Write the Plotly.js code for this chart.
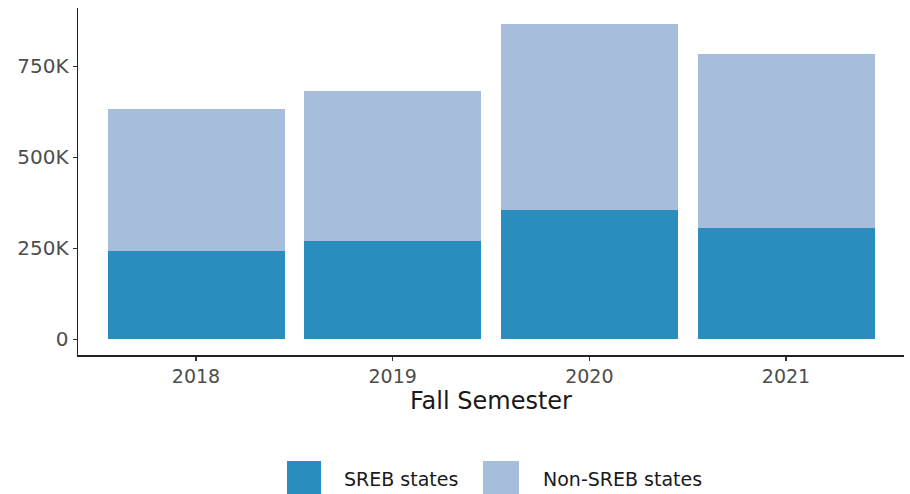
<!DOCTYPE html>
<html>
<head>
<meta charset="utf-8">
<script src="https://cdn.plot.ly/plotly-3.0.1.min.js"></script>
<style>html,body{margin:0;padding:0;background:#fff;}#chart{width:910px;height:494px;}</style>
</head>
<body>
<div id="chart"></div>
<script>
const years = ["2018", "2019", "2020", "2021"];
const srebValues = [242000, 269000, 356000, 307000];
const nonSrebValues = [391000, 412000, 511000, 478000];
const seriesNames = ["SREB states", "Non-SREB states"];
const seriesColors = ["#2B8CBE", "#A6BDDB"];
const yTickVals = [0, 250000, 500000, 750000];
const yTickText = ["0", "250K", "500K", "750K"];

const font = "'DejaVu Sans', sans-serif";

const traces = [
  {type: "bar", x: years, y: srebValues, name: seriesNames[0], marker: {color: seriesColors[0]}, showlegend: false},
  {type: "bar", x: years, y: nonSrebValues, name: seriesNames[1], marker: {color: seriesColors[1]}, showlegend: false}
];

// legend drawn as keys + labels below the plot
const legendShapes = [
  {type: "rect", xref: "paper", yref: "paper", x0: 0.2530, x1: 0.2942, y0: -0.4035, y1: -0.3055, fillcolor: seriesColors[0], line: {width: 0}},
  {type: "rect", xref: "paper", yref: "paper", x0: 0.4903, x1: 0.5339, y0: -0.4035, y1: -0.3055, fillcolor: seriesColors[1], line: {width: 0}}
];
const legendAnnotations = [
  {xref: "paper", yref: "paper", x: 0.3196, y: -0.357, xanchor: "left", yanchor: "middle", text: seriesNames[0], showarrow: false, font: {family: font, size: 19, color: "#1a1a1a"}},
  {xref: "paper", yref: "paper", x: 0.5605, y: -0.357, xanchor: "left", yanchor: "middle", text: seriesNames[1], showarrow: false, font: {family: font, size: 19, color: "#1a1a1a"}}
];

const layout = {
  width: 910, height: 494,
  margin: {l: 78, r: 6, t: 8, b: 139},
  paper_bgcolor: "#fff", plot_bgcolor: "#fff",
  barmode: "stack", bargap: 0.1,
  showlegend: false,
  font: {family: font},
  xaxis: {
    type: "category", range: [-0.6, 3.6],
    showline: true, linecolor: "#222", linewidth: 1.5,
    ticks: "outside", ticklen: 4, tickcolor: "#333", tickwidth: 1.2,
    showgrid: false, zeroline: false,
    tickfont: {family: font, size: 19, color: "#4d4d4d"},
    title: {text: "Fall Semester", font: {family: font, size: 24, color: "#1a1a1a"}, standoff: 5}
  },
  yaxis: {
    range: [-43500, 910500],
    showline: true, linecolor: "#222", linewidth: 1.5,
    ticks: "outside", ticklen: 4, tickcolor: "#333", tickwidth: 1.2,
    showgrid: false, zeroline: false,
    tickvals: yTickVals, ticktext: yTickText,
    tickfont: {family: font, size: 20, color: "#4d4d4d"}
  },
  shapes: legendShapes,
  annotations: legendAnnotations
};

Plotly.newPlot("chart", traces, layout, {displayModeBar: false, staticPlot: true});
</script>
</body>
</html>
